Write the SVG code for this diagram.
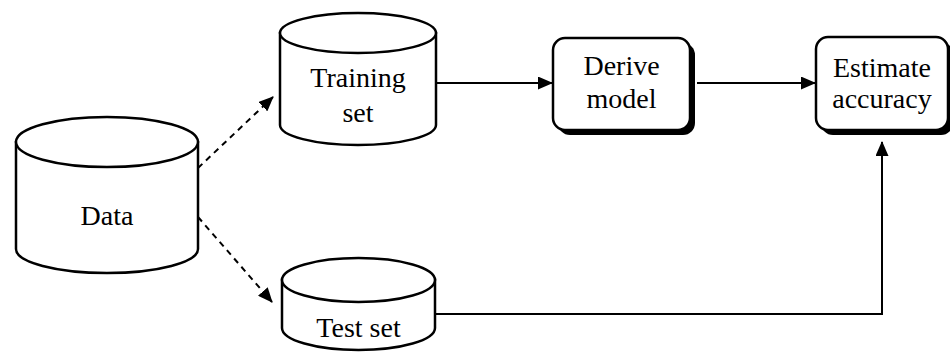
<svg xmlns="http://www.w3.org/2000/svg" width="950" height="354" viewBox="0 0 950 354">
<style>
.cyl{fill:#fff;stroke:#000;stroke-width:2.5}
.box{fill:#fff;stroke:#000;stroke-width:2.5}
.shadow{fill:#000}
.lbl{font-family:"Liberation Serif","Times New Roman",serif;font-size:28px;fill:#000;text-anchor:middle}
.conn{fill:none;stroke:#000;stroke-width:2}
.dash{stroke-dasharray:6,5}
</style>
<defs>
<marker id="ah" markerUnits="userSpaceOnUse" markerWidth="15" markerHeight="13" refX="14" refY="6.5" orient="auto">
<path d="M0,0 L15,6.5 L0,13 z" fill="#000"/>
</marker>
</defs>
<rect width="950" height="354" fill="#fff"/>
<g id="connectors">
<path class="conn dash" d="M198,168 L273,97" marker-end="url(#ah)"/>
<path class="conn dash" d="M198,217 L272,302" marker-end="url(#ah)"/>
<path class="conn" d="M436,83 L552,83" marker-end="url(#ah)"/>
<path class="conn" d="M697,83 L815,83" marker-end="url(#ah)"/>
<path class="conn" d="M435,314 L882,314 L882,142" marker-end="url(#ah)"/>
</g>
<g id="data">
<path class="cyl" d="M16,142 L16,249 A91,24 0 0 0 198,249 L198,142 Z"/>
<ellipse class="cyl" cx="107" cy="142" rx="91" ry="25"/>
<text class="lbl" x="107" y="225">Data</text>
</g>
<g id="training-set">
<path class="cyl" d="M280,33 L280,125 A78,20 0 0 0 436,125 L436,33 Z"/>
<ellipse class="cyl" cx="358" cy="33" rx="78" ry="20"/>
<text class="lbl" x="358" y="87">Training</text>
<text class="lbl" x="358" y="122">set</text>
</g>
<g id="test-set">
<path class="cyl" d="M282,280 L282,328 A76.5,22 0 0 0 435,328 L435,280 Z"/>
<ellipse class="cyl" cx="358.5" cy="280" rx="76.5" ry="22"/>
<text class="lbl" x="358.5" y="337">Test set</text>
</g>
<g id="derive-model">
<rect class="shadow" x="558" y="43" width="137" height="92" rx="12"/>
<rect class="box" x="553" y="38" width="137" height="92" rx="12"/>
<text class="lbl" x="621.5" y="75">Derive</text>
<text class="lbl" x="621.5" y="108">model</text>
</g>
<g id="estimate-accuracy">
<rect class="shadow" x="821" y="42" width="132" height="93" rx="12"/>
<rect class="box" x="816" y="37" width="132" height="93" rx="12"/>
<text class="lbl" x="882" y="77">Estimate</text>
<text class="lbl" x="882" y="108">accuracy</text>
</g>
</svg>
